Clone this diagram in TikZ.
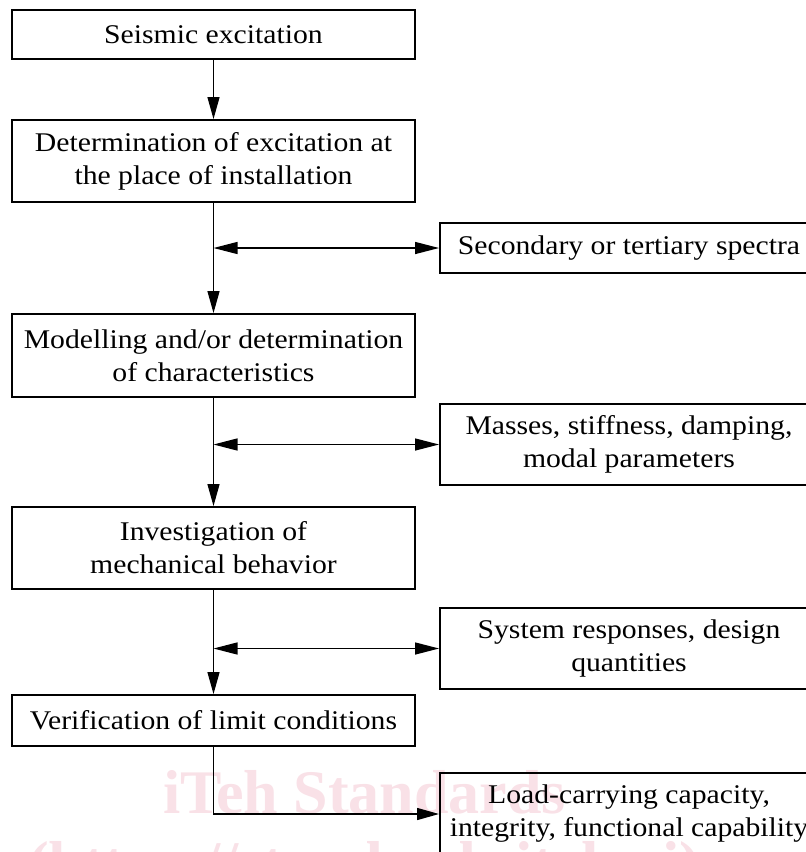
\documentclass[tikz,border=0pt]{standalone}
\usepackage{fontspec}
\setmainfont[FakeStretch=1.1]{Liberation Serif}
\newfontfamily\wmfont{Liberation Serif}
\usepackage{tikz}
\usetikzlibrary{positioning,arrows.meta,calc}
\definecolor{wmpink}{HTML}{F9E1E7}
\tikzset{
    every node/.style={font=\fontsize{27}{33}\selectfont},
    stagebox/.style={rectangle,draw,line width=1.9pt,minimum width=403pt,inner sep=2pt,align=center},
    databox/.style={rectangle,draw,line width=1.9pt,minimum width=378pt,inner sep=2pt,align=center},
    wmark/.style={text=wmpink,inner sep=0pt,font=\wmfont\bfseries\fontsize{62}{70}\selectfont},
    flow/.style={draw,line width=1.3pt,-{Triangle[length=22pt,width=12pt]}},
    both/.style={draw,line width=1.3pt,{Triangle[length=24pt,width=12pt]}-{Triangle[length=24pt,width=12pt]}}
}
\begin{document}
\begin{tikzpicture}[x=1pt,y=-1pt]
\clip (0,0) rectangle (806,852);
\fill[white] (0,0) rectangle (806,852);
\node[wmark,anchor=base west] (wm1) at (163,813) {iTeh Standards};
\node[wmark,anchor=base west] (wm2) at (28,884) {(https://standards.iteh.ai)};

\node[stagebox,minimum height=49pt] (seis) at (213.5,34.5) {Seismic excitation};
\node[stagebox,minimum height=82pt] (place) at (213.5,161) {Determination of excitation at\\the place of installation};
\node[stagebox,minimum height=83pt] (model) at (213.5,355.5) {Modelling and/or determination\\of characteristics};
\node[stagebox,minimum height=82pt] (mech) at (213.5,548) {Investigation of\\mechanical behavior};
\node[stagebox,minimum height=51pt] (verif) at (213.5,720.5) {Verification of limit conditions};

\node[databox,minimum height=50pt] (spectra) at (629,248) {Secondary or tertiary spectra};
\node[databox,minimum height=81pt] (props) at (629,444.5) {Masses, stiffness, damping,\\modal parameters};
\node[databox,minimum height=81pt] (resp) at (629,648.5) {System responses, design\\quantities};
\node[databox,minimum height=82pt] (capab) at (629,814) {Load-carrying capacity,\\integrity, functional capability};

\draw[flow] (seis) -- (place);
\draw[flow] (place) -- (model);
\draw[flow] (model) -- (mech);
\draw[flow] (mech) -- (verif);
\draw[both] (place.south |- spectra.west) -- (spectra.west);
\draw[both] (model.south |- props.west) -- (props.west);
\draw[both] (mech.south |- resp.west) -- (resp.west);
\draw[flow] (verif.south) |- (capab.west);
\end{tikzpicture}
\end{document}
